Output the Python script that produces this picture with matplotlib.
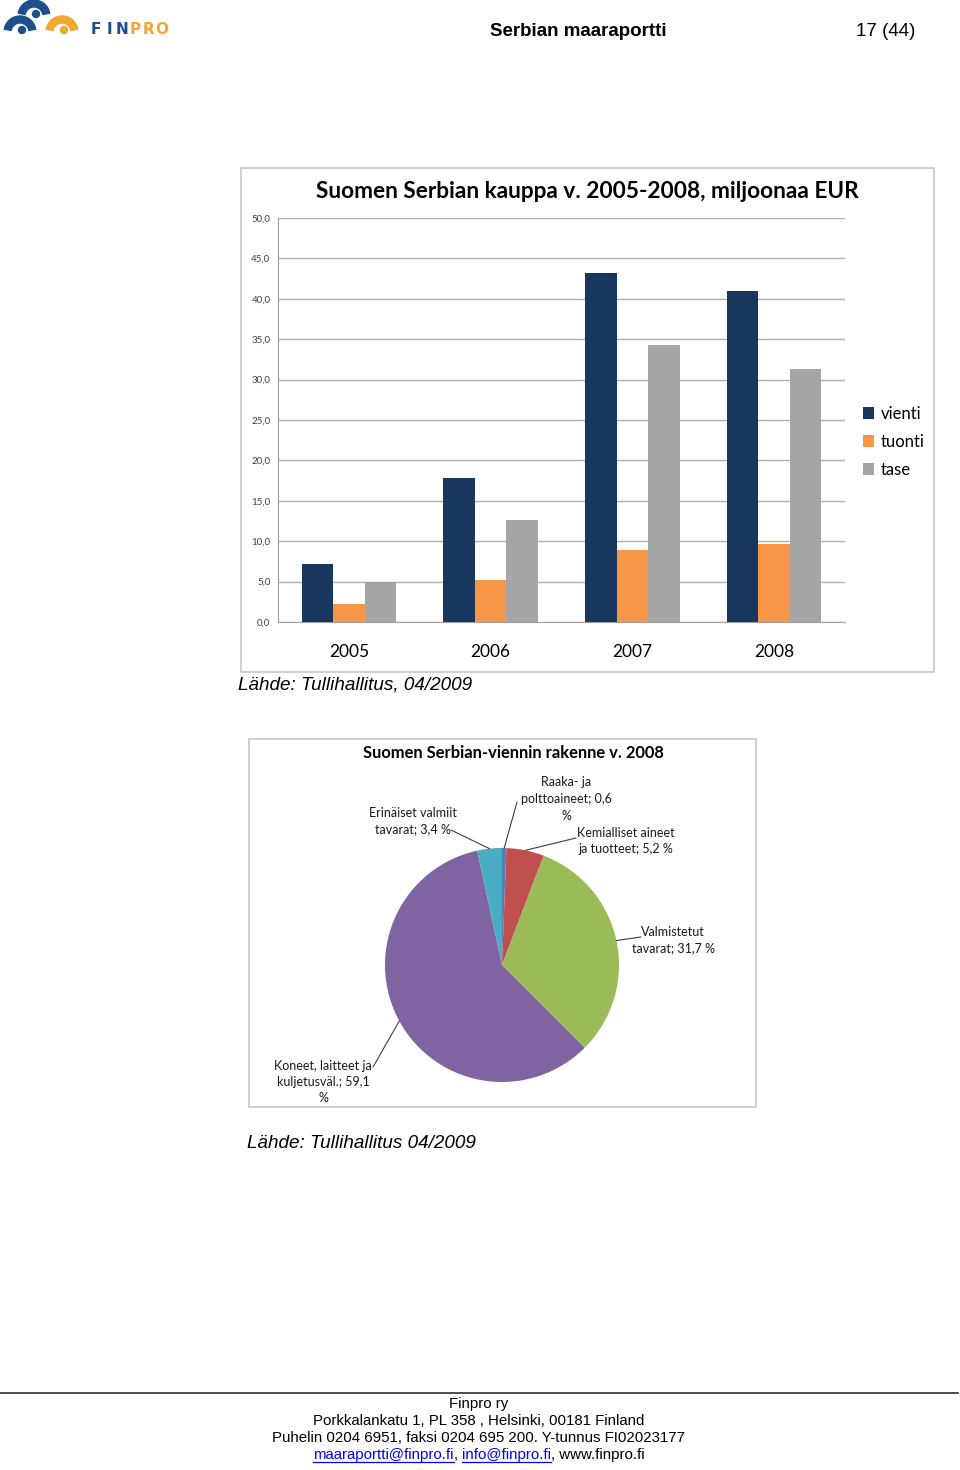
import matplotlib
matplotlib.use("Agg")
import matplotlib.pyplot as plt
import matplotlib.patches as mpatches
import numpy as np

# ---------------- data ----------------
years = ["2005", "2006", "2007", "2008"]
vienti = [7.2, 17.8, 43.2, 41.0]
tuonti = [2.2, 5.2, 8.9, 9.7]
tase = [5.0, 12.6, 34.3, 31.3]
series_names = ["vienti", "tuonti", "tase"]
yticks = [0, 5, 10, 15, 20, 25, 30, 35, 40, 45, 50]

pie_labels = ["Raaka- ja\npolttoaineet; 0,6\n%",
              "Kemialliset aineet\nja tuotteet; 5,2 %",
              "Valmistetut\ntavarat; 31,7 %",
              "Koneet, laitteet ja\nkuljetusväl.; 59,1\n%",
              "Erinäiset valmiit\ntavarat; 3,4 %"]
pie_values = [0.6, 5.2, 31.7, 59.1, 3.4]

W, H = 960, 1470
fig = plt.figure(figsize=(9.6, 14.7), dpi=100)
fig.patch.set_facecolor("white")

def fx(px):
    return px / W

def fy(py):
    return 1 - py / H

CH = "Lato"
AR = "Liberation Sans"

# ---------------- header ----------------
fig.text(fx(578), fy(31), "Serbian maaraportti", family=AR, weight="bold",
         fontsize=13.5, ha="center", va="center", color="black")
fig.text(fx(886), fy(31), "17 (44)", family=AR, fontsize=13.5,
         ha="center", va="center", color="black")
# simple logo approximation
lax = fig.add_axes([0, fy(48), fx(90), 48 / H])
lax.set_xlim(0, 90)
lax.set_ylim(48, 0)
lax.axis("off")
for (cx, cy, col) in [(34, 16, "#1F4E8C"), (20, 32, "#1F4E8C"), (62, 32, "#F0A830")]:
    lax.add_patch(mpatches.Wedge((cx, cy), 16, 190, 350, width=7, color=col))
    lax.add_patch(mpatches.Circle((cx + 2, cy - 2), 3.5, color=col))
for i, (ch, col) in enumerate(zip("FINPRO", ["#1F4E8C"] * 3 + ["#F0A830"] * 3)):
    fig.text(fx(96 + 13.2 * i), fy(29), ch, family="DejaVu Sans", weight="bold",
             fontsize=11, color=col, ha="center", va="center")

# ---------------- bar chart ----------------
fig.patches.append(mpatches.Rectangle((fx(241), fy(672)), 693 / W, 504 / H,
                                      transform=fig.transFigure, fill=False,
                                      edgecolor="#C8C8C8", lw=1.2))
ax = fig.add_axes([fx(278), fy(622), 567 / W, 404 / H])
x = np.arange(len(years))
bw = 0.222
colors = ["#17375E", "#F79646", "#A5A5A5"]
for i, (vals, c, n) in enumerate(zip([vienti, tuonti, tase], colors, series_names)):
    ax.bar(x + (i - 1) * bw, vals, width=bw, color=c, label=n, zorder=3)
ax.set_xlim(-0.5, 3.5)
ax.set_ylim(0, 50)
ax.set_yticks(yticks)
ax.set_yticklabels([f"{v:.1f}".replace(".", ",") for v in yticks],
                   family=CH, fontsize=7, color="#404040")
ax.set_xticks(x)
ax.set_xticklabels(years, family=CH, fontsize=12.5, color="black")
ax.tick_params(axis="y", length=0, pad=5.5)
ax.tick_params(axis="x", length=0, pad=16)
ax.grid(axis="y", color="#B0B0B0", lw=1, zorder=0)
for s in ["top", "right"]:
    ax.spines[s].set_visible(False)
ax.spines["left"].set_color("#A0A0A0")
ax.spines["bottom"].set_color("#A0A0A0")
ax.set_facecolor("white")
fig.text(fx(587), fy(191), "Suomen Serbian kauppa v. 2005-2008, miljoonaa EUR",
         family=CH, weight="bold", fontsize=16.3, ha="center", va="center")
leg = ax.legend(loc="upper left", bbox_to_anchor=(fx(856), fy(399)),
                bbox_transform=fig.transFigure, frameon=False,
                prop={"family": CH, "size": 12}, handlelength=0.7,
                handleheight=0.7, handletextpad=0.4, labelspacing=0.72,
                borderaxespad=0)
fig.text(fx(238), fy(685), "Lähde: Tullihallitus, 04/2009", family=AR,
         style="italic", fontsize=13.6, ha="left", va="center")

# ---------------- pie chart ----------------
fig.patches.append(mpatches.Rectangle((fx(249), fy(1107)), 507 / W, 368 / H,
                                      transform=fig.transFigure, fill=False,
                                      edgecolor="#C8C8C8", lw=1.2))
fig.text(fx(513), fy(753), "Suomen Serbian-viennin rakenne v. 2008",
         family=CH, weight="bold", fontsize=11.9, ha="center", va="center")
cx, cy, r = 502, 965, 117
pax = fig.add_axes([fx(cx - r), fy(cy + r), 2 * r / W, 2 * r / H])
pie_colors = ["#4F81BD", "#C0504D", "#9BBB59", "#8064A2", "#4BACC6"]
wedges, _ = pax.pie(pie_values, colors=pie_colors, startangle=90,
                    counterclock=False, radius=1,
                    wedgeprops=dict(linewidth=0))
pax.set_xlim(-1, 1)
pax.set_ylim(-1, 1)
pax.set_aspect("equal")
pax.axis("off")

text_pos = [(566, 799), (626, 841), (673, 940), (323, 1082), (413, 821)]
line_end = [(517, 802), (576, 838), (641, 937), (373, 1067), (451, 830)]
for w, lab, (tx, ty), (lx, ly) in zip(wedges, pie_labels, text_pos, line_end):
    ang = np.deg2rad((w.theta1 + w.theta2) / 2)
    px, py = np.cos(ang), np.sin(ang)
    pax.annotate("", xy=(px, py), xycoords="data",
                 xytext=(fx(lx), fy(ly)), textcoords="figure fraction",
                 arrowprops=dict(arrowstyle="-", lw=0.8, color="#404040",
                                 shrinkA=0, shrinkB=0), annotation_clip=False)
    fig.text(fx(tx), fy(ty), lab, family=CH, fontsize=9, ha="center",
             va="center", linespacing=1.45, color="#1a1a1a")

fig.text(fx(247), fy(1144), "Lähde: Tullihallitus 04/2009", family=AR,
         style="italic", fontsize=13.6, ha="left", va="center")

# ---------------- footer ----------------
fig.add_artist(plt.Line2D([0, fx(958)], [fy(1393), fy(1393)],
                          transform=fig.transFigure, color="#303030", lw=1.2))
footer_lines = ["Finpro ry",
                "Porkkalankatu 1, PL 358 , Helsinki, 00181 Finland",
                "Puhelin 0204 6951, faksi 0204 695 200. Y-tunnus FI02023177"]
for i, t in enumerate(footer_lines):
    fig.text(fx(479), fy(1404 + 17 * i), t, family=AR, fontsize=10.8,
             ha="center", va="center")

parts = [("maaraportti@finpro.fi", "#0000FF", True), (", ", "black", False),
         ("info@finpro.fi", "#0000FF", True), (", www.finpro.fi", "black", False)]
fig.canvas.draw()
renderer = fig.canvas.get_renderer()
objs = []
for t, c, u in parts:
    o = fig.text(0, fy(1455), t, family=AR, fontsize=10.8, color=c,
                 ha="left", va="center")
    objs.append(o)
widths = [o.get_window_extent(renderer).width for o in objs]
total = sum(widths)
start = 479 - total / 2
for o, wdt, (t, c, u) in zip(objs, widths, parts):
    o.set_x(fx(start))
    if u:
        fig.add_artist(plt.Line2D([fx(start), fx(start + wdt)],
                                  [fy(1462), fy(1462)],
                                  transform=fig.transFigure, color=c, lw=0.9))
    start += wdt

fig.savefig("out.png", dpi=100, facecolor="white")
